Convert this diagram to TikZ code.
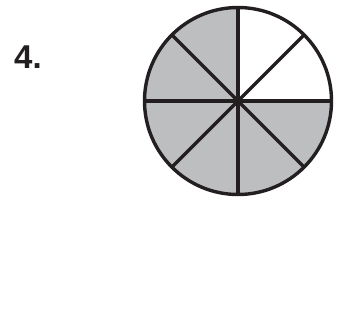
\documentclass[tikz,border=0pt]{standalone}
\usepackage{fontspec}
\setmainfont{Liberation Sans}
\definecolor{wedgegray}{HTML}{BCBEC0}
\definecolor{ink}{HTML}{231F20}
\begin{document}
\begin{tikzpicture}[x=1pt,y=-1pt,
  rim/.style={draw=ink,line width=3.4pt},
  spoke/.style={draw=ink,line width=3.4pt},
  numlabel/.style={anchor=base west,inner sep=0pt,font=\fontsize{33}{33}\selectfont\bfseries,text=ink}]
\useasboundingbox (0,0) rectangle (352,324);
\coordinate (c) at (238,101);
\fill[wedgegray] (c) -- ++(93.5,0) arc[start angle=0,end angle=270,radius=93.5] -- cycle;
\foreach \a in {0,45,...,315}{
  \draw[spoke] (c) -- ++(\a:93.5);
}
\draw[rim] (c) circle[radius=93.5];
\node[numlabel] (n) at (14,68) {4.};
\end{tikzpicture}
\end{document}
